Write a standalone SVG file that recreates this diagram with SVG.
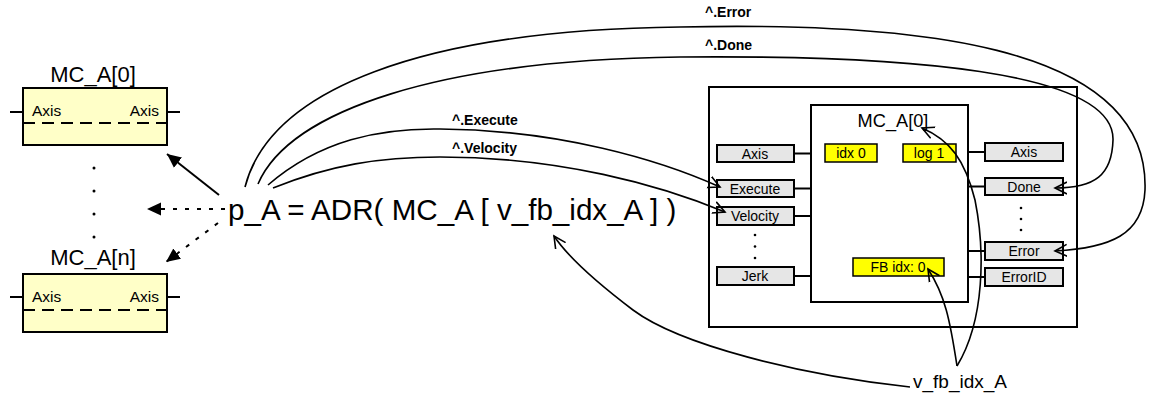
<svg xmlns="http://www.w3.org/2000/svg" width="1150" height="398" viewBox="0 0 1150 398">
<defs>
<style>
text{font-family:"Liberation Sans",Arial,sans-serif;fill:#000}
.fb{fill:#ffffc8;stroke:#000;stroke-width:2}
.port{fill:#e6e6e6;stroke:#000;stroke-width:2}
.lit{fill:#ffff00;stroke:#000;stroke-width:1.5}
.frame{fill:#fff;stroke:#000;stroke-width:2}
.ln{stroke:#000;stroke-width:2;fill:none}
.cv{stroke:#000;stroke-width:1.6;fill:none;marker-end:url(#open)}
.pt{font-size:14px;text-anchor:middle}
.lbl{font-size:14px;font-weight:bold}
.dot{fill:#000}
</style>
<marker id="open" viewBox="-12 -7 14 14" markerWidth="14" markerHeight="14" refX="0" refY="0" orient="auto" markerUnits="userSpaceOnUse">
<path d="M-12,-6 L0,0 L-12,6" fill="none" stroke="#000" stroke-width="1.6"/>
</marker>
<marker id="tri" viewBox="-14 -7 15 14" markerWidth="15" markerHeight="14" refX="0" refY="0" orient="auto" markerUnits="userSpaceOnUse">
<path d="M-14,-6.5 L0,0 L-14,6.5 Z" fill="#000"/>
</marker>
</defs>
<rect width="1150" height="398" fill="#fff"/>

<g id="fbA0">
<text x="93" y="82" font-size="22" text-anchor="middle">MC_A[0]</text>
<rect class="fb" x="23" y="88" width="144" height="57"/>
<line class="ln" x1="10" y1="112" x2="23" y2="112"/>
<line class="ln" x1="167" y1="112" x2="180" y2="112"/>
<line class="ln" x1="23" y1="123" x2="167" y2="123" stroke-dasharray="12 7"/>
<text x="32" y="116" font-size="15.5">Axis</text>
<text x="159" y="116" font-size="15.5" text-anchor="end">Axis</text>
</g>

<g id="fbAn">
<text x="93" y="265" font-size="22" text-anchor="middle">MC_A[n]</text>
<rect class="fb" x="23" y="274" width="144" height="58"/>
<line class="ln" x1="10" y1="297" x2="23" y2="297"/>
<line class="ln" x1="167" y1="297" x2="180" y2="297"/>
<line class="ln" x1="23" y1="310" x2="167" y2="310" stroke-dasharray="12 7"/>
<text x="32" y="302" font-size="15.5">Axis</text>
<text x="159" y="302" font-size="15.5" text-anchor="end">Axis</text>
</g>

<g id="vdots-left">
<circle class="dot" cx="94" cy="168" r="1.5"/>
<circle class="dot" cx="94" cy="191" r="1.5"/>
<circle class="dot" cx="94" cy="214" r="1.5"/>
<circle class="dot" cx="94" cy="237" r="1.5"/>
</g>

<g id="expr">
<text x="228" y="220" font-size="29.6">p_A = ADR( MC_A [ v_fb_idx_A ] )</text>
</g>

<g id="instance">
<rect class="frame" x="709" y="87" width="368" height="240"/>
<rect class="frame" x="811" y="105" width="157" height="197"/>
<text x="893" y="127" font-size="18.2" text-anchor="middle">MC_A[0]</text>
<rect class="lit" x="825" y="144" width="52" height="18"/>
<text class="pt" x="851" y="158">idx 0</text>
<rect class="lit" x="903" y="144" width="53" height="18"/>
<text class="pt" x="929" y="158">log 1</text>
<rect class="lit" x="853" y="258" width="91" height="18"/>
<text class="pt" x="898" y="272">FB idx: 0</text>

<rect class="port" x="717" y="145" width="77" height="17"/>
<text class="pt" x="755" y="159">Axis</text>
<rect class="port" x="717" y="180" width="77" height="17"/>
<text class="pt" x="755" y="194">Execute</text>
<rect class="port" x="717" y="207" width="77" height="18"/>
<text class="pt" x="755" y="221">Velocity</text>
<rect class="port" x="717" y="267" width="77" height="18"/>
<text class="pt" x="755" y="281">Jerk</text>
<line class="ln" x1="794" y1="153.5" x2="811" y2="153.5"/>
<line class="ln" x1="794" y1="188.5" x2="811" y2="188.5"/>
<line class="ln" x1="794" y1="216" x2="811" y2="216"/>
<line class="ln" x1="794" y1="276" x2="811" y2="276"/>
<circle class="dot" cx="755" cy="235" r="1.3"/>
<circle class="dot" cx="755" cy="246.5" r="1.3"/>
<circle class="dot" cx="755" cy="258" r="1.3"/>

<rect class="port" x="985" y="143" width="78" height="18"/>
<text class="pt" x="1024" y="157">Axis</text>
<rect class="port" x="985" y="178" width="78" height="17"/>
<text class="pt" x="1024" y="192">Done</text>
<rect class="port" x="985" y="242" width="78" height="18"/>
<text class="pt" x="1024" y="256">Error</text>
<rect class="port" x="985" y="268" width="78" height="18"/>
<text class="pt" x="1024" y="282">ErrorID</text>
<line class="ln" x1="968" y1="152" x2="985" y2="152"/>
<line class="ln" x1="968" y1="186.5" x2="985" y2="186.5"/>
<line class="ln" x1="968" y1="251" x2="985" y2="251"/>
<line class="ln" x1="968" y1="277" x2="985" y2="277"/>
<circle class="dot" cx="1021" cy="208" r="1.3"/>
<circle class="dot" cx="1021" cy="219" r="1.3"/>
<circle class="dot" cx="1021" cy="230" r="1.3"/>
</g>

<g id="idxvar">
<text x="913" y="388" font-size="19">v_fb_idx_A</text>
</g>

<g id="connectors">
<line class="ln" x1="219" y1="195" x2="167" y2="154" stroke-width="2.4" marker-end="url(#tri)"/>
<line class="ln" x1="225" y1="209" x2="147" y2="209" stroke-width="2.6" stroke-dasharray="4 8" marker-end="url(#tri)"/>
<line class="ln" x1="218" y1="223" x2="166" y2="262" stroke-width="2.6" stroke-dasharray="4 8" marker-end="url(#tri)"/>

<path class="cv" d="M245,187 C270,90 420,30 680,27 C900,22 1150,40 1145,190 C1143,235 1110,248 1055,251"/>
<path class="cv" d="M258,184 C290,110 440,60 680,57 C900,55 1115,70 1113,140 C1112,175 1095,188 1055,188"/>
<path class="cv" d="M268,185 C320,140 380,128 440,129 C560,130 660,160 720,187"/>
<path class="cv" d="M273,188 C330,165 380,157 440,157 C560,157 660,185 725,212"/>

<path class="cv" d="M910,387 C800,375 680,345 633,310 C600,285 570,260 554,236"/>
<path class="cv" d="M957,366 C950,320 945,295 928,269"/>
<path class="cv" d="M957,366 C985,320 985,250 975,200 C965,160 950,140 922,128"/>

<text class="lbl" x="705" y="17">^.Error</text>
<text class="lbl" x="705" y="50">^.Done</text>
<text class="lbl" x="452" y="125">^.Execute</text>
<text class="lbl" x="452" y="153">^.Velocity</text>
</g>
</svg>
